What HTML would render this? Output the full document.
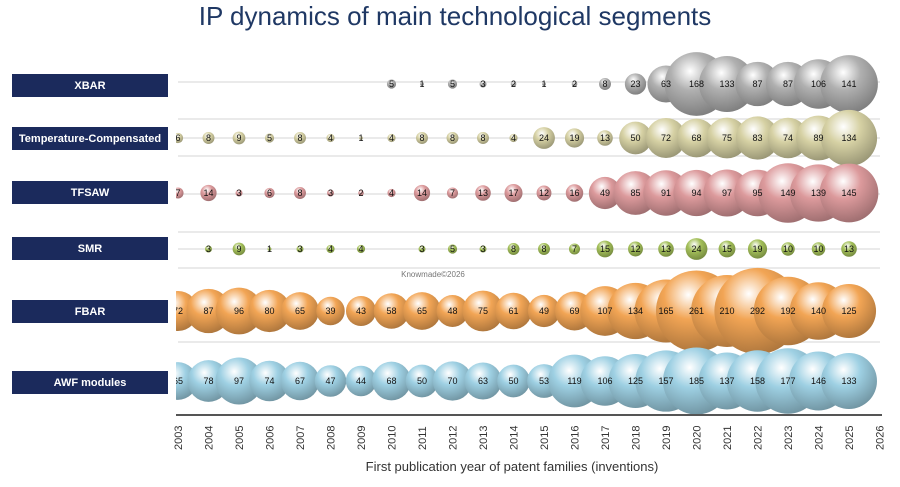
<!DOCTYPE html>
<html><head><meta charset="utf-8"><style>
body{margin:0;background:#fff;width:900px;height:482px;overflow:hidden;font-family:"Liberation Sans",sans-serif}
</style></head><body>
<svg id="s" width="900" height="482" viewBox="0 0 900 482" xmlns="http://www.w3.org/2000/svg" font-family="Liberation Sans, sans-serif">
<defs>
<clipPath id="cp"><rect x="176" y="40" width="724" height="375"/></clipPath>
</defs>
<text x="455" y="25" text-anchor="middle" font-size="26" fill="#1f3864">IP dynamics of main technological segments</text>
<g stroke="#e4e4e4" stroke-width="1.5">
<line x1="178" x2="880" y1="82" y2="82"/><line x1="178" x2="880" y1="119" y2="119"/>
<line x1="178" x2="880" y1="138" y2="138"/><line x1="178" x2="880" y1="156" y2="156"/>
<line x1="178" x2="880" y1="194" y2="194"/><line x1="178" x2="880" y1="232" y2="232"/>
<line x1="178" x2="880" y1="249" y2="249"/><line x1="178" x2="880" y1="268" y2="268"/>
<line x1="178" x2="880" y1="342" y2="342"/>
</g>
<g fill="#1b2a5c">
<rect x="12" y="74" width="156" height="23"/><rect x="12" y="127" width="156" height="23"/>
<rect x="12" y="181" width="156" height="23"/><rect x="12" y="237" width="156" height="23"/>
<rect x="12" y="300" width="156" height="23"/><rect x="12" y="371" width="156" height="23"/>
</g>
<g fill="#fff" font-weight="bold" font-size="11" text-anchor="middle">
<text x="90" y="89">XBAR</text><text x="90" y="142">Temperature-Compensated</text>
<text x="90" y="196">TFSAW</text><text x="90" y="252">SMR</text>
<text x="90" y="315">FBAR</text><text x="90" y="386">AWF modules</text>
</g>
<g id="bub" clip-path="url(#cp)"></g>
<text x="433" y="277" text-anchor="middle" font-size="8" fill="#777">Knowmade©2026</text>
<g font-size="9" fill="#111" text-anchor="middle" clip-path="url(#cp)">
<text y="87"><tspan x="391.5">5</tspan><tspan x="422">1</tspan><tspan x="452.5">5</tspan><tspan x="483">3</tspan><tspan x="513.5">2</tspan><tspan x="544">1</tspan><tspan x="574.5">2</tspan><tspan x="605">8</tspan><tspan x="635.5">23</tspan><tspan x="666">63</tspan><tspan x="696.5">168</tspan><tspan x="727">133</tspan><tspan x="757.5">87</tspan><tspan x="788">87</tspan><tspan x="818.5">106</tspan><tspan x="849">141</tspan></text>
<text y="141"><tspan x="178">6</tspan><tspan x="208.5">8</tspan><tspan x="239">9</tspan><tspan x="269.5">5</tspan><tspan x="300">8</tspan><tspan x="330.5">4</tspan><tspan x="361">1</tspan><tspan x="391.5">4</tspan><tspan x="422">8</tspan><tspan x="452.5">8</tspan><tspan x="483">8</tspan><tspan x="513.5">4</tspan><tspan x="544">24</tspan><tspan x="574.5">19</tspan><tspan x="605">13</tspan><tspan x="635.5">50</tspan><tspan x="666">72</tspan><tspan x="696.5">68</tspan><tspan x="727">75</tspan><tspan x="757.5">83</tspan><tspan x="788">74</tspan><tspan x="818.5">89</tspan><tspan x="849">134</tspan></text>
<text y="196"><tspan x="178">7</tspan><tspan x="208.5">14</tspan><tspan x="239">3</tspan><tspan x="269.5">6</tspan><tspan x="300">8</tspan><tspan x="330.5">3</tspan><tspan x="361">2</tspan><tspan x="391.5">4</tspan><tspan x="422">14</tspan><tspan x="452.5">7</tspan><tspan x="483">13</tspan><tspan x="513.5">17</tspan><tspan x="544">12</tspan><tspan x="574.5">16</tspan><tspan x="605">49</tspan><tspan x="635.5">85</tspan><tspan x="666">91</tspan><tspan x="696.5">94</tspan><tspan x="727">97</tspan><tspan x="757.5">95</tspan><tspan x="788">149</tspan><tspan x="818.5">139</tspan><tspan x="849">145</tspan></text>
<text y="252"><tspan x="208.5">3</tspan><tspan x="239">9</tspan><tspan x="269.5">1</tspan><tspan x="300">3</tspan><tspan x="330.5">4</tspan><tspan x="361">4</tspan><tspan x="422">3</tspan><tspan x="452.5">5</tspan><tspan x="483">3</tspan><tspan x="513.5">8</tspan><tspan x="544">8</tspan><tspan x="574.5">7</tspan><tspan x="605">15</tspan><tspan x="635.5">12</tspan><tspan x="666">13</tspan><tspan x="696.5">24</tspan><tspan x="727">15</tspan><tspan x="757.5">19</tspan><tspan x="788">10</tspan><tspan x="818.5">10</tspan><tspan x="849">13</tspan></text>
<text y="314"><tspan x="178">72</tspan><tspan x="208.5">87</tspan><tspan x="239">96</tspan><tspan x="269.5">80</tspan><tspan x="300">65</tspan><tspan x="330.5">39</tspan><tspan x="361">43</tspan><tspan x="391.5">58</tspan><tspan x="422">65</tspan><tspan x="452.5">48</tspan><tspan x="483">75</tspan><tspan x="513.5">61</tspan><tspan x="544">49</tspan><tspan x="574.5">69</tspan><tspan x="605">107</tspan><tspan x="635.5">134</tspan><tspan x="666">165</tspan><tspan x="696.5">261</tspan><tspan x="727">210</tspan><tspan x="757.5">292</tspan><tspan x="788">192</tspan><tspan x="818.5">140</tspan><tspan x="849">125</tspan></text>
<text y="384"><tspan x="178">65</tspan><tspan x="208.5">78</tspan><tspan x="239">97</tspan><tspan x="269.5">74</tspan><tspan x="300">67</tspan><tspan x="330.5">47</tspan><tspan x="361">44</tspan><tspan x="391.5">68</tspan><tspan x="422">50</tspan><tspan x="452.5">70</tspan><tspan x="483">63</tspan><tspan x="513.5">50</tspan><tspan x="544">53</tspan><tspan x="574.5">119</tspan><tspan x="605">106</tspan><tspan x="635.5">125</tspan><tspan x="666">157</tspan><tspan x="696.5">185</tspan><tspan x="727">137</tspan><tspan x="757.5">158</tspan><tspan x="788">177</tspan><tspan x="818.5">146</tspan><tspan x="849">133</tspan></text>
</g>
<line x1="176" x2="882" y1="415" y2="415" stroke="#555" stroke-width="2"/>
<g id="yrs" font-size="11" fill="#333"></g>
<text x="512" y="471" text-anchor="middle" font-size="13" fill="#333">First publication year of patent families (inventions)</text>
</svg>
<script>
var NS="http://www.w3.org/2000/svg",s=document.getElementById('s'),defs=s.querySelector('defs');
var rows=[
[84,"#b0b0b0",[0,0,0,0,0,0,0,5,1,5,3,2,1,2,8,23,63,168,133,87,87,106,141]],
[138,"#d6d1a4",[6,8,9,5,8,4,1,4,8,8,8,4,24,19,13,50,72,68,75,83,74,89,134]],
[193,"#dc9a9c",[7,14,3,6,8,3,2,4,14,7,13,17,12,16,49,85,91,94,97,95,149,139,145]],
[249,"#a4c05a",[0,3,9,1,3,4,4,0,3,5,3,8,8,7,15,12,13,24,15,19,10,10,13]],
[311,"#f2a555",[72,87,96,80,65,39,43,58,65,48,75,61,49,69,107,134,165,261,210,292,192,140,125]],
[381,"#9ed0e3",[65,78,97,74,67,47,44,68,50,70,63,50,53,119,106,125,157,185,137,158,177,146,133]]];
var g=document.getElementById('bub');
function shade(h,f){var n=parseInt(h.slice(1),16),R=n>>16,G=n>>8&255,B=n&255;return 'rgb('+(R*f|0)+','+(G*f|0)+','+(B*f|0)+')';}
rows.forEach(function(r,k){
 var gr=document.createElementNS(NS,'radialGradient');gr.id='g'+k;
 gr.setAttribute('cx','0.4');gr.setAttribute('cy','0.3');gr.setAttribute('r','0.75');
 [['0','#ffffff'],['0.4',r[1]],['1',shade(r[1],0.7)]].forEach(function(st){var e=document.createElementNS(NS,'stop');e.setAttribute('offset',st[0]);e.setAttribute('stop-color',st[1]);gr.appendChild(e);});
 defs.appendChild(gr);
 r[2].forEach(function(v,i){if(!v)return;var c=document.createElementNS(NS,'circle');
  c.setAttribute('cx',178+30.5*i);c.setAttribute('cy',r[0]);c.setAttribute('r',1.9*Math.pow(v,0.55));
  c.setAttribute('fill','url(#g'+k+')');g.appendChild(c);});
});
var y=document.getElementById('yrs');
for(var i=0;i<24;i++){var t=document.createElementNS(NS,'text');var x=178+30.5*i+4;
 t.setAttribute('transform','translate('+x+',450) rotate(-90)');t.textContent=2003+i;y.appendChild(t);}
</script>
</body></html>
